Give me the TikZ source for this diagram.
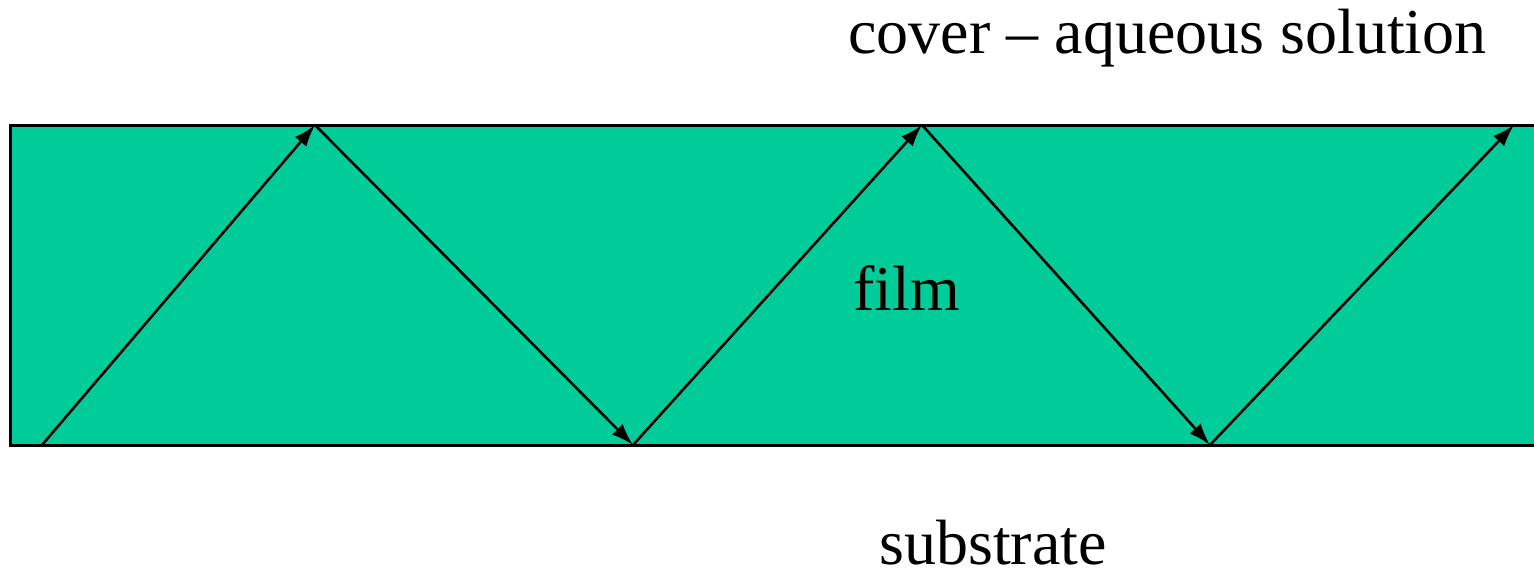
\documentclass[tikz,border=0pt]{standalone}
\usepackage{fontspec}
\setmainfont{Liberation Serif}
\usetikzlibrary{arrows.meta}
\definecolor{filmgreen}{RGB}{0,204,153}
\tikzset{
  ray/.style={line width=2.6pt,-{Latex[length=22pt,width=15pt]}},
  lbl/.style={font=\fontsize{64}{70}\selectfont,anchor=base,inner sep=0pt}
}
\begin{document}
\begin{tikzpicture}[x=1pt,y=-1pt]
\useasboundingbox (0,0) rectangle (1534,571);
\clip (0,0) rectangle (1534,571);
\draw[fill=filmgreen,line width=3pt] (10,125) rectangle (1560,445);
\coordinate (p0) at (42,445);
\coordinate (p1) at (315,125);
\coordinate (p2) at (633,445);
\coordinate (p3) at (922,125);
\coordinate (p4) at (1210,445);
\coordinate (p5) at (1514,125);
\draw[ray] (p0) -- (p1);
\draw[ray] (p1) -- (p2);
\draw[ray] (p2) -- (p3);
\draw[ray] (p3) -- (p4);
\draw[ray] (p4) -- (p5);
\node[lbl] (cover) at (1167.5,53) {cover – aqueous solution};
\node[lbl] (film) at (906.5,310) {film};
\node[lbl,text depth=0pt] (sub) at (993,564) {substrate};
\end{tikzpicture}
\end{document}
